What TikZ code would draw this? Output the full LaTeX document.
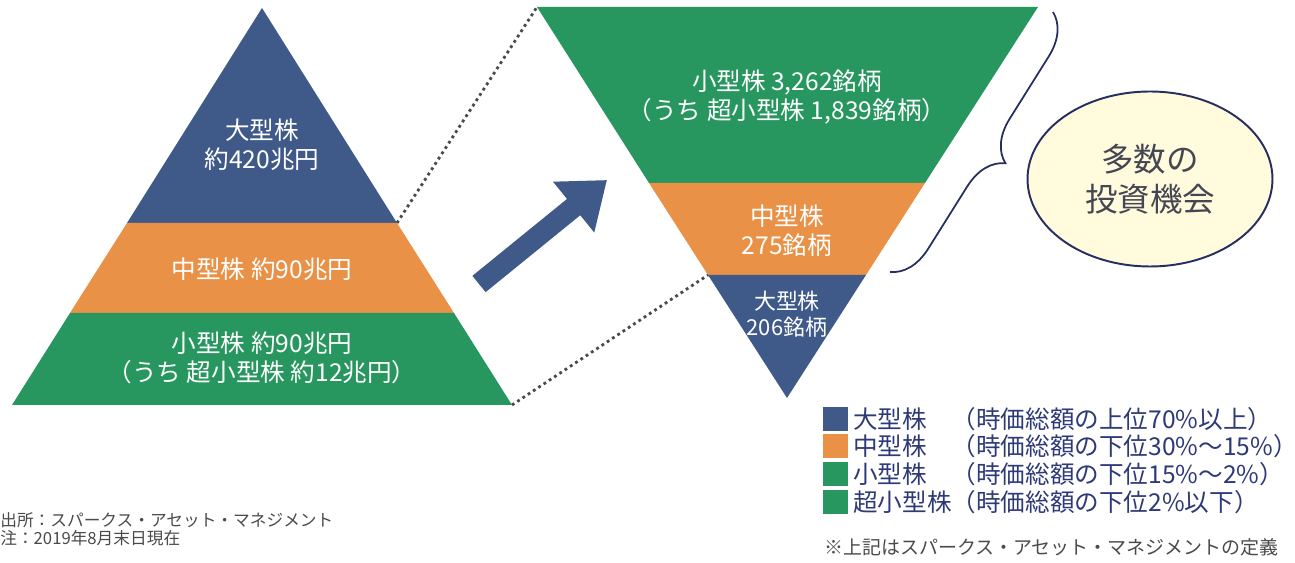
\documentclass[tikz,border=0pt]{standalone}
\usepackage{fontspec}
\setmainfont{Noto Sans CJK JP}
\usetikzlibrary{arrows.meta,decorations.pathreplacing,shapes.geometric}

\definecolor{bigblue}{HTML}{3F5A88}
\definecolor{midorange}{HTML}{E99147}
\definecolor{smallgreen}{HTML}{27975F}
\definecolor{navytext}{HTML}{2E3A78}
\definecolor{notegray}{HTML}{4A4A4A}
\definecolor{paleyellow}{HTML}{FFFBDC}

\tikzset{
  bandtext/.style={align=center,text=white,inner sep=0pt,
    font=\fontsize{14}{16.5}\selectfont},
  keybox/.style={minimum width=0.5cm,minimum height=0.48cm,inner sep=0pt},
  keytext/.style={anchor=west,inner sep=0pt,text=navytext,
    font=\fontsize{14}{16}\selectfont},
  dotline/.style={draw=notegray,dotted,line width=1.6pt},
}

\begin{document}
\begin{tikzpicture}[x=0.02cm,y=-0.02cm]

      \useasboundingbox (0,0) rectangle (1295,563);

      % corners of the two triangles
      \coordinate (ltop) at (262,8);
      \coordinate (lbl)  at (12,405);
      \coordinate (lbr)  at (512,405);
      \coordinate (lmr)  at (397,223);
      \coordinate (rtl)  at (537,7);
      \coordinate (rtr)  at (1038,7);
      \coordinate (rbot) at (787,398);
      \coordinate (rml)  at (708,275);

      % market cap pyramid
      \fill[bigblue]    (ltop) -- (lmr) -- (127,223) -- cycle;
      \fill[midorange]  (127,223) -- (lmr) -- (454,313) -- (70,313) -- cycle;
      \fill[smallgreen] (70,313) -- (454,313) -- (lbr) -- (lbl) -- cycle;

      % number of stocks, upside down
      \fill[smallgreen] (rtl) -- (rtr) -- (925,183) -- (649,183) -- cycle;
      \fill[midorange]  (649,183) -- (925,183) -- (866,275) -- (rml) -- cycle;
      \fill[bigblue]    (rml) -- (866,275) -- (rbot) -- cycle;

      \begin{scope}[every node/.style={bandtext}]
        \node (lbig)   at (262,145) {大型株\\約420兆円};
        \node (lmid)   at (262,269) {中型株 約90兆円};
        \node (lsmall) at (262,358) {小型株 約90兆円\\（うち 超小型株 約12兆円）};
        \node (rsmall) at (787,97)  {小型株 3,262銘柄\\（うち 超小型株 1,839銘柄）};
        \node (rmid)   at (787,231) {中型株\\275銘柄};
        \node[font=\fontsize{12.5}{14.5}\selectfont]
          (rbig)   at (787,314) {大型株\\206銘柄};
      \end{scope}

      \path[dotline] (lmr) -- (rtl);
      \path[dotline] (lbr) -- (rml);

      % big arrow between the two
      \coordinate (arrfrom) at (479,284);
      \coordinate (arrto)   at (607,180);
      \draw[bigblue,line width=0.42cm,
        -{Triangle[length=0.86cm,width=1.25cm]}] (arrfrom) -- (arrto);

      % brace and bubble
      \coordinate (brtop) at (1053,12);
      \coordinate (brbot) at (890,272);
      \draw[navytext!80!black,line width=1pt,decorate,
        decoration={brace,amplitude=0.8cm}] (brtop) -- (brbot);
      \node[ellipse,draw=navytext!80!black,line width=1.1pt,fill=paleyellow,
        minimum width=4.9cm,minimum height=3.5cm,align=center,
        text=notegray!80!navytext,font=\fontsize{18.5}{22.5}\selectfont]
        (chance) at (1150,179) {多数の\\投資機会};

      % legend
      \node[keybox,fill=bigblue]    (kbig)   at (835,419) {};
      \node[keybox,fill=midorange]  (kmid)   at (835,446) {};
      \node[keybox,fill=smallgreen] (ksmall) at (835,474) {};
      \node[keybox,fill=smallgreen] (ktiny)  at (835,502) {};
      \node[keytext] (tbig)   at (853,419) {大型株　（時価総額の上位70\%以上）};
      \node[keytext] (tmid)   at (853,446) {中型株　（時価総額の下位30\%～15\%）};
      \node[keytext] (tsmall) at (853,474) {小型株　（時価総額の下位15\%～2\%）};
      \node[keytext] (ttiny)  at (853,502) {超小型株（時価総額の下位2\%以下）};

      \node[anchor=east,inner sep=0pt,text=notegray,font=\fontsize{10.8}{13}\selectfont]
        (define) at (1279,547) {※上記はスパークス・アセット・マネジメントの定義};
      \node[anchor=west,inner sep=0pt,align=left,text=notegray,
        font=\fontsize{9.5}{10.5}\selectfont]
        (source) at (0,529) {出所：スパークス・アセット・マネジメント\\注：2019年8月末日現在};

    \end{tikzpicture}
\end{document}
